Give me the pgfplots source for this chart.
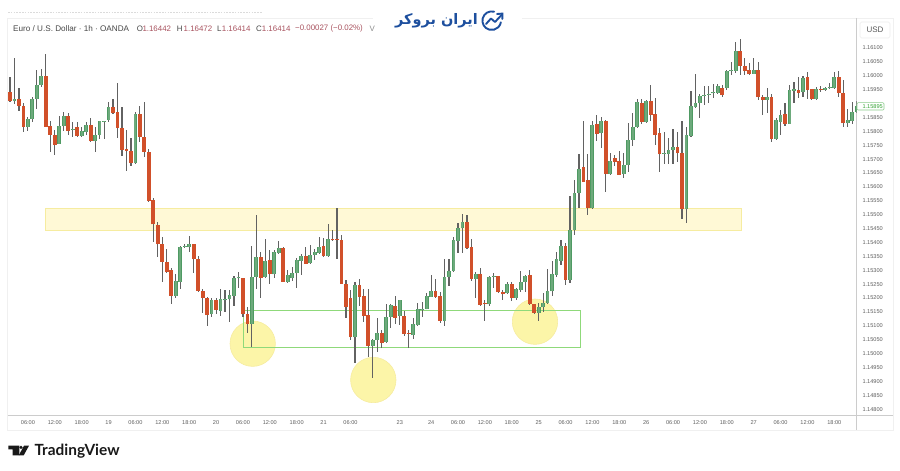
\documentclass[border=0pt]{standalone}
\usepackage{fontspec}
\setmainfont{Liberation Sans}
\newfontfamily\arabicfont[Script=Arabic]{DejaVu Sans}
\newfontfamily\latofont{Lato}
\usepackage{pgfplots}
\usepackage{pgfplotstable}
\pgfplotsset{compat=1.18}
\TeXXeTstate=1
\definecolor{upbody}{HTML}{4F9A63}
\definecolor{upin}{HTML}{6DAA7C}
\definecolor{downbody}{HTML}{D1502A}
\definecolor{wick}{HTML}{626262}
\definecolor{ticktxt}{HTML}{5E5E5E}
\definecolor{pink}{HTML}{A8525E}
\definecolor{logoblue}{HTML}{1D4F9E}
\definecolor{zonefill}{HTML}{FFF9D6}
\definecolor{zoneedge}{HTML}{F6ECA0}
\definecolor{circfill}{HTML}{FCF5A8}
\definecolor{circedge}{HTML}{F6ECA0}
\definecolor{boxgreen}{HTML}{8FD97A}
\pgfplotstableread{
x hi lo top bot
1 1.16064 1.15899 1.15918 1.15909
4 1.15852 1.15801 1.15845 1.15816
5 1.15924 1.15834 1.15917 1.15845
6 1.16021 1.15881 1.15967 1.15917
7 1.16025 1.15960 1.15999 1.15967
11 1.15855 1.15755 1.15819 1.15755
12 1.15870 1.15801 1.15855 1.15819
14 1.15834 1.15780 1.15809 1.15805
16 1.15816 1.15780 1.15801 1.15783
17 1.15834 1.15787 1.15823 1.15798
19 1.15816 1.15726 1.15787 1.15765
20 1.15837 1.15773 1.15837 1.15787
21 1.15839 1.15773 1.15839 1.15836
22 1.15906 1.15834 1.15888 1.15841
28 1.15870 1.15683 1.15863 1.15686
37 1.15285 1.15199 1.15261 1.15207
38 1.15388 1.15231 1.15385 1.15259
39 1.15393 1.15381 1.15389 1.15386
40 1.15423 1.15367 1.15393 1.15383
45 1.15199 1.15133 1.15193 1.15141
47 1.15231 1.15136 1.15197 1.15155
48 1.15229 1.15151 1.15198 1.15195
49 1.15229 1.15115 1.15211 1.15195
50 1.15279 1.15171 1.15273 1.15208
51 1.15295 1.15235 1.15276 1.15272
54 1.15388 1.15025 1.15277 1.15107
55 1.15499 1.15231 1.15347 1.15277
57 1.15411 1.15271 1.15334 1.15275
59 1.15373 1.15271 1.15365 1.15285
60 1.15405 1.15359 1.15379 1.15361
62 1.15301 1.15257 1.15283 1.15259
63 1.15313 1.15261 1.15289 1.15271
64 1.15345 1.15235 1.15337 1.15289
65 1.15357 1.15283 1.15352 1.15334
67 1.15391 1.15323 1.15356 1.15325
68 1.15378 1.15337 1.15365 1.15355
69 1.15419 1.15361 1.15385 1.15363
71 1.15465 1.15349 1.15413 1.15351
77 1.15257 1.14965 1.15247 1.15059
81 1.15051 1.14911 1.15049 1.15027
82 1.15127 1.15007 1.15073 1.15049
84 1.15177 1.15039 1.15133 1.15042
85 1.15177 1.15093 1.15175 1.15133
87 1.15193 1.15103 1.15193 1.15136
90 1.15127 1.15051 1.15107 1.15068
91 1.15181 1.15101 1.15159 1.15103
92 1.15187 1.15133 1.15161 1.15158
93 1.15217 1.15159 1.15207 1.15159
94 1.15282 1.15205 1.15225 1.15205
97 1.15341 1.15099 1.15277 1.15118
98 1.15341 1.15245 1.15297 1.15277
99 1.15419 1.15295 1.15409 1.15297
100 1.15469 1.15363 1.15451 1.15406
101 1.15503 1.15363 1.15475 1.15451
104 1.15294 1.15201 1.15287 1.15268
107 1.15279 1.15172 1.15277 1.15177
108 1.15289 1.15235 1.15281 1.15278
111 1.15259 1.15215 1.15250 1.15217
113 1.15235 1.15193 1.15233 1.15201
114 1.15298 1.15223 1.15257 1.15229
115 1.15283 1.15223 1.15280 1.15257
118 1.15181 1.15118 1.15167 1.15147
119 1.15217 1.15149 1.15183 1.15167
120 1.15304 1.15179 1.15225 1.15183
121 1.15333 1.15208 1.15287 1.15224
122 1.15367 1.15277 1.15340 1.15284
123 1.15409 1.15319 1.15387 1.15334
125 1.15569 1.15255 1.15445 1.15266
126 1.15625 1.15427 1.15579 1.15445
127 1.15719 1.15523 1.15665 1.15579
130 1.15837 1.15523 1.15823 1.15524
132 1.15853 1.15741 1.15837 1.15793
134 1.15721 1.15645 1.15694 1.15647
137 1.15723 1.15633 1.15679 1.15647
138 1.15829 1.15655 1.15770 1.15679
139 1.15865 1.15747 1.15817 1.15769
140 1.15915 1.15811 1.15906 1.15817
142 1.15913 1.15829 1.15909 1.15834
146 1.15799 1.15683 1.15723 1.15719
147 1.15777 1.15683 1.15732 1.15717
148 1.15807 1.15683 1.15743 1.15733
151 1.15817 1.15469 1.15787 1.15522
152 1.15946 1.15781 1.15892 1.15783
153 1.16005 1.15887 1.15901 1.15889
154 1.15935 1.15849 1.15927 1.15901
155 1.15964 1.15895 1.15932 1.15928
156 1.15964 1.15901 1.15936 1.15933
157 1.15971 1.15921 1.15942 1.15937
158 1.15971 1.15937 1.15963 1.15939
160 1.16021 1.15950 1.16018 1.15955
161 1.16051 1.16003 1.16020 1.16017
162 1.16123 1.16009 1.16089 1.16018
166 1.16063 1.16007 1.16021 1.16007
169 1.15955 1.15867 1.15925 1.15913
171 1.15849 1.15771 1.15841 1.15773
172 1.15877 1.15787 1.15859 1.15835
174 1.15967 1.15827 1.15949 1.15827
175 1.15979 1.15903 1.15951 1.15947
177 1.16000 1.15925 1.15992 1.15941
180 1.15959 1.15915 1.15953 1.15917
182 1.15961 1.15946 1.15957 1.15950
183 1.15973 1.15951 1.15959 1.15955
184 1.16015 1.15953 1.15995 1.15955
187 1.15879 1.15817 1.15841 1.15829
188 1.15907 1.15827 1.15871 1.15838
189 1.15909 1.15866 1.15892 1.15870
}\upcandles
\pgfplotstableread{
x hi lo top bot
0 1.15996 1.15906 1.15942 1.15909
2 1.15956 1.15873 1.15917 1.15891
3 1.15902 1.15798 1.15891 1.15816
8 1.16079 1.15816 1.15999 1.15816
9 1.15837 1.15726 1.15819 1.15787
10 1.15805 1.15715 1.15787 1.15751
13 1.15866 1.15787 1.15855 1.15801
15 1.15834 1.15780 1.15816 1.15783
18 1.15848 1.15762 1.15823 1.15765
23 1.15917 1.15863 1.15888 1.15866
24 1.15974 1.15776 1.15870 1.15812
25 1.15888 1.15711 1.15812 1.15733
26 1.15805 1.15657 1.15735 1.15731
27 1.15776 1.15675 1.15731 1.15686
29 1.15891 1.15762 1.15863 1.15780
30 1.15906 1.15708 1.15780 1.15726
31 1.15735 1.15549 1.15726 1.15551
32 1.15561 1.15403 1.15553 1.15465
33 1.15475 1.15349 1.15464 1.15393
34 1.15421 1.15259 1.15395 1.15331
35 1.15377 1.15291 1.15331 1.15295
36 1.15309 1.15179 1.15301 1.15208
41 1.15395 1.15289 1.15393 1.15341
42 1.15351 1.15223 1.15342 1.15226
43 1.15231 1.15147 1.15226 1.15201
44 1.15205 1.15099 1.15201 1.15139
46 1.15199 1.15143 1.15192 1.15157
52 1.15273 1.15133 1.15273 1.15141
53 1.15168 1.15073 1.15141 1.15107
56 1.15367 1.15201 1.15347 1.15273
58 1.15373 1.15250 1.15337 1.15285
61 1.15385 1.15259 1.15379 1.15259
66 1.15383 1.15323 1.15351 1.15323
70 1.15415 1.15349 1.15387 1.15351
72 1.15445 1.15405 1.15414 1.15411
73 1.15523 1.15341 1.15413 1.15409
74 1.15427 1.15251 1.15409 1.15251
75 1.15265 1.15127 1.15250 1.15169
76 1.15229 1.15049 1.15199 1.15059
78 1.15268 1.15171 1.15247 1.15205
79 1.15231 1.15113 1.15208 1.15136
80 1.15231 1.14989 1.15139 1.15028
83 1.15085 1.15019 1.15073 1.15039
86 1.15208 1.15107 1.15172 1.15129
88 1.15153 1.15064 1.15136 1.15071
89 1.15085 1.15019 1.15074 1.15071
95 1.15268 1.15199 1.15225 1.15204
96 1.15223 1.15111 1.15207 1.15118
102 1.15499 1.15377 1.15475 1.15381
103 1.15411 1.15262 1.15385 1.15268
105 1.15307 1.15172 1.15287 1.15175
106 1.15193 1.15118 1.15182 1.15179
109 1.15280 1.15219 1.15279 1.15221
110 1.15229 1.15193 1.15223 1.15213
112 1.15257 1.15190 1.15251 1.15199
116 1.15301 1.15175 1.15282 1.15177
117 1.15179 1.15143 1.15179 1.15147
124 1.15397 1.15247 1.15387 1.15266
128 1.15838 1.15619 1.15671 1.15619
129 1.15717 1.15499 1.15624 1.15524
131 1.15859 1.15766 1.15825 1.15791
133 1.15841 1.15581 1.15838 1.15647
135 1.15715 1.15676 1.15704 1.15690
136 1.15730 1.15643 1.15694 1.15643
141 1.15915 1.15825 1.15903 1.15834
143 1.15967 1.15838 1.15908 1.15859
144 1.15919 1.15751 1.15863 1.15787
145 1.15811 1.15655 1.15793 1.15717
149 1.15799 1.15689 1.15743 1.15721
150 1.15838 1.15485 1.15721 1.15522
159 1.15967 1.15923 1.15956 1.15931
163 1.16133 1.16003 1.16089 1.16035
164 1.16063 1.16003 1.16035 1.16017
165 1.16045 1.16003 1.16021 1.16005
167 1.16051 1.15913 1.16021 1.15923
168 1.15931 1.15859 1.15923 1.15913
170 1.15935 1.15763 1.15925 1.15771
173 1.15901 1.15819 1.15863 1.15827
176 1.15995 1.15919 1.15948 1.15939
178 1.16015 1.15915 1.15995 1.15949
179 1.15953 1.15913 1.15951 1.15915
181 1.15964 1.15943 1.15953 1.15948
185 1.16017 1.15923 1.15995 1.15939
186 1.15985 1.15817 1.15939 1.15829
}\downcandles
\begin{document}
\begin{tikzpicture}
\path[use as bounding box] (0pt,0pt) rectangle (900pt,471pt);
\begin{scope}[shift={(0pt,471pt)},x=1pt,y=-1pt]
 % frame
 \draw[color=black!6,line width=0.8pt] (7.5,18)--(7.5,430)--(893,430)--(893,18)--(522,18);
 \draw[color=black!6,line width=0.8pt] (7.5,18)--(373,18);
 \draw[color=black!20,line width=0.8pt] (7.5,415.7)--(893,415.7);
 \draw[color=black!20,line width=0.8pt] (856.7,18)--(856.7,430);
 % cut-off line of faint text above the chart
 \draw[color=black!14,line width=0.8pt,dash pattern=on 1.6pt off 1.2pt] (8,12.3)--(262,12.3);
 % zones
 \fill[fill=zonefill,draw=zoneedge,line width=0.8pt] (45.7,208.3) rectangle (741,230.3);
 \foreach \cx/\cy in {252.7/343.7,373.3/380,535/321.7}
   \fill[fill=circfill,draw=circedge,line width=0.6pt] (\cx,\cy) circle[radius=22.7pt];
 \draw[draw=boxgreen,line width=0.9pt] (243,310.3) rectangle (580,347.3);
\end{scope}
\begin{axis}[
 at={(7.5pt,55.3pt)},anchor=south west,
 scale only axis,width=849.2pt,height=397.7pt,
 xmin=-0.558,xmax=189,ymin=1.147765,ymax=1.162082,
 axis line style={draw=none},
 major tick length=0pt,
 tick style={draw=none},
 ymajorgrids=false,xmajorgrids=false,
 xtick={4,10,16,22,28,34,40,46,52,58,64,70,76,87,94,100,106,112,118,124,130,136,142,148,154,160,166,172,178,184},
 xticklabels={06:00,12:00,18:00,19,06:00,12:00,18:00,20,06:00,12:00,18:00,21,06:00,23,24,06:00,12:00,18:00,25,06:00,12:00,18:00,26,06:00,12:00,18:00,27,06:00,12:00,18:00},
 ytick={1.148,1.1485,1.149,1.1495,1.15,1.1505,1.151,1.1515,1.152,1.1525,1.153,1.1535,1.154,1.1545,1.155,1.1555,1.156,1.1565,1.157,1.1575,1.158,1.1585,1.1595,1.16,1.1605,1.161},
 yticklabel pos=right,
 scaled y ticks=false,
 yticklabel style={/pgf/number format/fixed,/pgf/number format/fixed zerofill,/pgf/number format/precision=5,/pgf/number format/assume math mode=true,font=\fontsize{5.6pt}{6pt}\selectfont,text=ticktxt,anchor=west,inner sep=0pt,xshift=5.6pt},
 xticklabel style={font=\fontsize{5.6pt}{6pt}\selectfont,text=ticktxt,inner sep=0pt,anchor=center,yshift=-7pt},
 clip=true,
]
\addplot[draw=none,mark=none,forget plot,error bars/.cd,y dir=both,y explicit,error mark=none,error bar style={draw=wick,line width=1.1pt,solid}]
 table[x=x,y=bot,y error plus expr=\thisrow{hi}-\thisrow{bot},y error minus expr=\thisrow{bot}-\thisrow{lo}] {\upcandles};
\addplot[draw=none,mark=none,forget plot,error bars/.cd,y dir=both,y explicit,error mark=none,error bar style={draw=wick,line width=1.1pt,solid}]
 table[x=x,y=bot,y error plus expr=\thisrow{hi}-\thisrow{bot},y error minus expr=\thisrow{bot}-\thisrow{lo}] {\downcandles};
\addplot[draw=none,mark=none,forget plot,error bars/.cd,y dir=plus,y explicit,error mark=none,error bar style={draw=upbody,line width=3.8pt,solid}]
 table[x=x,y=bot,y error plus expr=\thisrow{top}-\thisrow{bot}] {\upcandles};
\addplot[draw=none,mark=none,forget plot,error bars/.cd,y dir=plus,y explicit,error mark=none,error bar style={draw=upin,line width=2pt,solid}]
 table[x=x,y=bot,y error plus expr=\thisrow{top}-\thisrow{bot}] {\upcandles};
\addplot[draw=none,mark=none,forget plot,error bars/.cd,y dir=plus,y explicit,error mark=none,error bar style={draw=downbody,line width=3.8pt,solid}]
 table[x=x,y=bot,y error plus expr=\thisrow{top}-\thisrow{bot}] {\downcandles};
\end{axis}
\begin{scope}[shift={(0pt,471pt)},x=1pt,y=-1pt]
 % price scale furniture
 \draw[draw=black!7,fill=white,rounded corners=1.5pt,line width=0.6pt] (860,22) rectangle (890,38);
 \node[font=\fontsize{8pt}{9pt}\selectfont,text=black!65,inner sep=0pt] at (875,30) {USD};
 \draw[draw=green!55!black!45,fill=white,rounded corners=1pt,line width=0.6pt] (857,102.7) rectangle (884,110);
 \node[font=\fontsize{5.6pt}{6pt}\selectfont,text=green!55!black!80,inner sep=0pt,anchor=west] at (862.3,106.3) {1.15895};
 % header
 \def\hf{\fontsize{7.9pt}{9pt}\selectfont}
 \node[font=\fontsize{8.15pt}{9pt}\selectfont,text=black!72,inner sep=0pt,anchor=west] at (13,28.5) {Euro / U.S. Dollar · 1h · OANDA};
 \node[font=\hf,text=black!72,inner sep=0pt,anchor=west] at (136.7,28.5) {O};
 \node[font=\hf,text=pink,inner sep=0pt,anchor=west] at (142.3,28.5) {1.16442};
 \node[font=\hf,text=black!72,inner sep=0pt,anchor=west] at (176.7,28.5) {H};
 \node[font=\hf,text=pink,inner sep=0pt,anchor=west] at (183.5,28.5) {1.16472};
 \node[font=\hf,text=black!72,inner sep=0pt,anchor=west] at (217,28.5) {L};
 \node[font=\hf,text=pink,inner sep=0pt,anchor=west] at (221.7,28.5) {1.16414};
 \node[font=\hf,text=black!72,inner sep=0pt,anchor=west] at (256,28.5) {C};
 \node[font=\hf,text=pink,inner sep=0pt,anchor=west] at (261.7,28.5) {1.16414};
 \node[font=\hf,text=pink,inner sep=0pt,anchor=west] at (295,28.5) {−0.00027 (−0.02\%)};
 \node[font=\hf,text=black!45,inner sep=0pt,anchor=west] at (369.5,28.5) {V};
 % logo
 \node[font=\fontsize{14.5pt}{16pt}\selectfont,text=logoblue,inner sep=0pt,anchor=center] at (436.5,20.5) {\arabicfont\bfseries\beginR ایران بروکر\endR};
 \draw[logoblue,line width=1.9pt,line cap=round,line join=round] (486,24) -- (491,18.5) -- (495,22) -- (502,14.5);
 \draw[logoblue,line width=1.9pt,line cap=round] (497,14) -- (502.3,13.6) -- (502.3,19);
 % TradingView
 \fill[black!90] (8.3,445.7) -- (19.3,445.7) -- (19.3,455.3) -- (12.7,455.3) -- (12.7,449.4) -- (8.3,449.4) -- cycle;
 \fill[black!90] (21,447.3) circle[radius=1.75pt];
 \fill[black!90] (24,445.7) -- (29,445.7) -- (23.7,455.3) -- (18.8,455.3) -- cycle;
 \node[font=\latofont\bfseries\fontsize{15.4pt}{17pt}\selectfont,text=black!90,inner sep=0pt,anchor=west] at (34.3,451) {TradingView};
\end{scope}
\draw[logoblue,line width=1.9pt,line cap=round] (494.1pt,459.3pt) arc[start angle=75,end angle=350,radius=9.3pt];
\end{tikzpicture}
\end{document}
